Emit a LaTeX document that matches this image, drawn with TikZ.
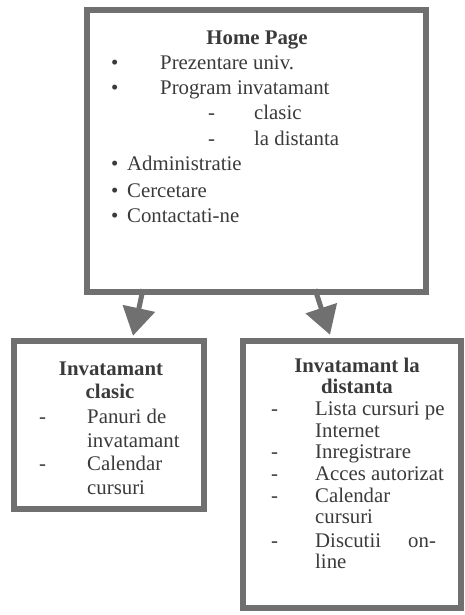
\documentclass[tikz,border=0pt]{standalone}
\usepackage{fontspec}
\setmainfont{Liberation Serif}
\usetikzlibrary{arrows.meta}
\definecolor{boxgray}{RGB}{112,112,112}
\definecolor{txtc}{RGB}{58,58,58}
\begin{document}
\begin{tikzpicture}[x=1pt,y=-1pt,
  box/.style={draw=boxgray,line width=6.5pt,inner sep=0pt},
  txt/.style={font=\fontsize{20.8}{24}\selectfont,text=txtc,inner sep=0pt,anchor=base west},
  hd/.style={font=\fontsize{20.8}{24}\selectfont\bfseries,text=txtc,inner sep=0pt,anchor=base},
  arr/.style={draw=boxgray,line width=5pt,-{Triangle[length=28pt,width=32pt]}}]
\useasboundingbox (0,0) rectangle (465,615);
% boxes
\node[box,minimum width=339pt,minimum height=282pt] (home) at (256.5,151) {};
\node[box,minimum width=190pt,minimum height=168pt] (clasic) at (109,425) {};
\node[box,minimum width=218pt,minimum height=267pt] (dist) at (352,474.5) {};
% arrows
\draw[arr] ([xshift=-113.5pt,yshift=6pt]home.south) -- ([xshift=24pt,yshift=2pt]clasic.north);
\draw[arr] ([xshift=58.5pt,yshift=6pt]home.south) -- ([xshift=-22pt,yshift=3pt]dist.north);
% home page text
\node[hd] (h0) at (257,45) {Home Page};
\node[txt] (hb1) at (111,70) {•};
\node[txt] (h1) at (160,70) {Prezentare univ.};
\node[txt] (hb2) at (111,95) {•};
\node[txt] (h2) at (160,95) {Program invatamant};
\node[txt] (hd1) at (208,120) {-};
\node[txt] (h3) at (254,120) {clasic};
\node[txt] (hd2) at (208,145) {-};
\node[txt] (h4) at (254,145) {la distanta};
\node[txt] (hb3) at (111,170) {•};
\node[txt] (h5) at (127,170) {Administratie};
\node[txt] (hb4) at (111,197) {•};
\node[txt] (h6) at (127,197) {Cercetare};
\node[txt] (hb5) at (111,222) {•};
\node[txt] (h7) at (127,222) {Contactati-ne};
% clasic box text
\node[hd] (c0) at (111,375) {Invatamant};
\node[hd] (c1) at (110,398) {clasic};
\node[txt] (cd1) at (39,423) {-};
\node[txt] (c2) at (87,423) {Panuri de};
\node[txt] (c3) at (87,447) {invatamant};
\node[txt] (cd2) at (39,470) {-};
\node[txt] (c4) at (87,470) {Calendar};
\node[txt] (c5) at (87,494) {cursuri};
% distanta box text
\node[hd] (d0) at (357,372) {Invatamant la};
\node[hd] (d1) at (357,393) {distanta};
\node[txt] (dd1) at (271,415) {-};
\node[txt] (d2) at (315,415) {Lista cursuri pe};
\node[txt] (d3) at (315,437) {Internet};
\node[txt] (dd2) at (271,458) {-};
\node[txt] (d4) at (315,458) {Inregistrare};
\node[txt] (dd3) at (271,480) {-};
\node[txt] (d5) at (315,480) {Acces autorizat};
\node[txt] (dd4) at (271,502) {-};
\node[txt] (d6) at (315,502) {Calendar};
\node[txt] (d7) at (315,523) {cursuri};
\node[txt] (dd5) at (271,547) {-};
\node[txt] (d8) at (315,547) {Discutii};
\node[txt] (d9) at (408,547) {on-};
\node[txt] (d10) at (315,568) {line};
\end{tikzpicture}
\end{document}
